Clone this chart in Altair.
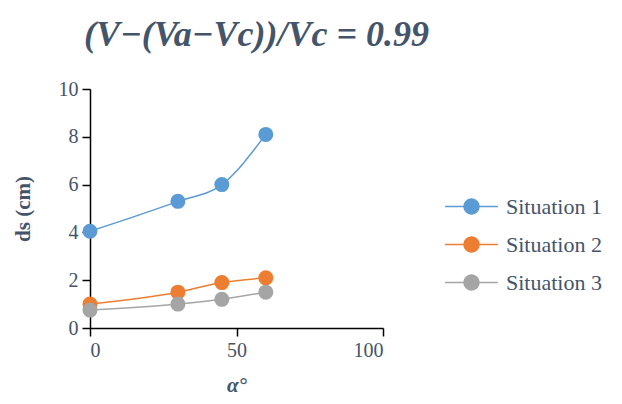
import math
import altair as alt
import pandas as pd

angles = [0, 30, 45, 60]
situation1 = [4.05, 5.3, 6.0, 8.1]
situation2 = [1.0, 1.5, 1.9, 2.1]
situation3 = [0.75, 1.0, 1.2, 1.5]
series_names = ["Situation 1", "Situation 2", "Situation 3"]
series_colors = ["#5B9BD5", "#ED7D31", "#A5A5A5"]
x_ticks = [0, 50, 100]
y_ticks = [0, 2, 4, 6, 8, 10]

rows = []
for name, colr, vals in zip(series_names, series_colors, [situation1, situation2, situation3]):
    for a, v in zip(angles, vals):
        rows.append({"alpha": a, "ds": v, "series": name, "line_color": colr})
df = pd.DataFrame(rows)

text_color = "#44546A"
font = "Liberation Serif"

x = alt.X("alpha:Q", scale=alt.Scale(domain=[0, 100], nice=False),
          axis=alt.Axis(values=x_ticks, title="α°", grid=False))
y = alt.Y("ds:Q", scale=alt.Scale(domain=[0, 10], nice=False),
          axis=alt.Axis(values=y_ticks, title="ds (cm)", grid=False))
col_scale = alt.Scale(domain=series_names, range=series_colors)

# lines use an identity colour (no scale), so they do not touch the legend
lines = alt.Chart(df).mark_line(strokeWidth=1.5, interpolate="monotone").encode(
    x=x, y=y, color=alt.Color("line_color:N", scale=None),
    detail="series:N")

# legend glyph: a short line with a dot (circle approximated by a polygon)
r = 0.45
circle_pts = " ".join(
    f"{'M' if i == 0 else 'L'}{r * math.cos(2 * math.pi * i / 32):.3f},{r * math.sin(2 * math.pi * i / 32):.3f}"
    for i in range(32))
legend_path = f"M-1.6,0L1.6,0{circle_pts}Z"

leg = alt.Legend(title=" ", titleFontSize=10, titlePadding=90,
                 orient="right", offset=71,
                 symbolType=legend_path, symbolSize=1089, symbolStrokeWidth=1.5,
                 symbolOpacity=1, labelOffset=17, rowPadding=9, padding=0)

points = alt.Chart(df).mark_circle(size=170, opacity=1).encode(
    x=x, y=y,
    fill=alt.Fill("series:N", scale=col_scale, legend=leg),
    stroke=alt.Stroke("series:N", scale=col_scale, legend=leg),
)

chart = (lines + points).properties(
    width=293, height=239,
    title=alt.TitleParams("(V−(Va−Vc))/Vc = 0.99", font=font, fontSize=36,
                          fontWeight="bold", fontStyle="italic", color=text_color,
                          anchor="middle", frame="group", offset=25, dx=20),
    padding={"left": 4, "top": 9, "right": 5, "bottom": 5},
).configure_view(stroke=None).configure_axis(
    domainColor="black", domainWidth=1.5, tickColor="black", tickWidth=1.5,
    tickSize=8, labelFont=font, labelFontSize=20, labelColor=text_color,
    titleFont=font, titleFontSize=21, titleColor=text_color, titleFontWeight="bold",
    labelPadding=4,
).configure_axisX(titleFontStyle="italic", titlePadding=14).configure_axisY(
    titlePadding=25).configure_legend(
    labelFont=font, labelFontSize=22, labelColor=text_color)

chart.save("out.html", embed_options={"renderer": "svg", "actions": False})
